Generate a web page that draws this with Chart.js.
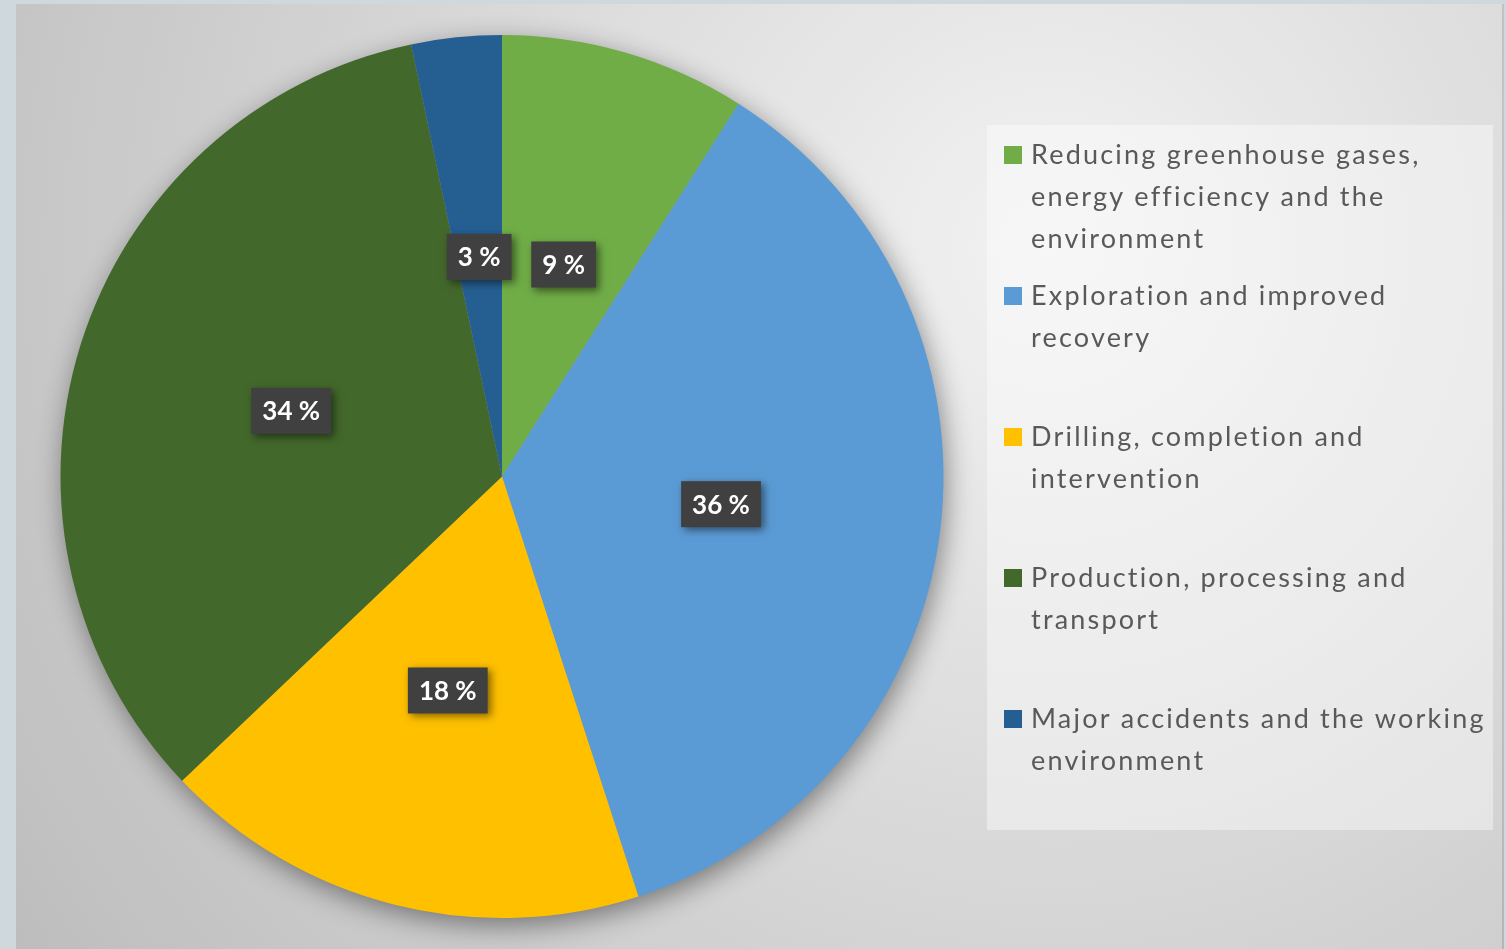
<!DOCTYPE html>
<html><head><meta charset="utf-8">
<script src="https://cdn.jsdelivr.net/npm/chart.js@4"></script>
<style>html,body{margin:0;padding:0;overflow:hidden;background:#cfd8dc}#wrap{width:1506px;height:949px;position:relative}canvas{display:block}</style>
</head><body><div id="wrap"><canvas id="c" width="1506" height="949"></canvas></div>
<script>
const categories = [
  "Reducing greenhouse gases, energy efficiency and the environment",
  "Exploration and improved recovery",
  "Drilling, completion and intervention",
  "Production, processing and transport",
  "Major accidents and the working environment"
];
const legendLines = [
  ["Reducing greenhouse gases,", "energy efficiency and the", "environment"],
  ["Exploration and improved", "recovery"],
  ["Drilling, completion and", "intervention"],
  ["Production, processing and", "transport"],
  ["Major accidents and the working", "environment"]
];
const values = [9, 36, 17.9, 33.8, 3.3];
const colors = ["#70ad47", "#5b9bd5", "#ffc000", "#43682b", "#255e91"];

const bgPlugin = {
  id: 'bg',
  beforeDraw(chart) {
    const ctx = chart.ctx;
    ctx.save();
    ctx.fillStyle = '#cfd8dc';
    ctx.fillRect(0, 0, chart.width, chart.height);
    const g = ctx.createRadialGradient(1050, 250, 0, 1050, 250, 1250);
    g.addColorStop(0, '#f2f2f2');
    g.addColorStop(1, '#bdbdbd');
    ctx.fillStyle = g;
    ctx.fillRect(16, 4, 1488, 945);
    ctx.fillStyle = 'rgba(0,0,0,0.12)';
    ctx.fillRect(1502, 4, 2, 945);
    ctx.restore();
  },
  beforeDatasetsDraw(chart) {
    const arc = chart.getDatasetMeta(0).data[0];
    if (!arc) return;
    const ctx = chart.ctx;
    ctx.save();
    ctx.shadowColor = 'rgba(0,0,0,0.45)';
    ctx.shadowBlur = 28;
    ctx.shadowOffsetX = 3;
    ctx.shadowOffsetY = 8;
    ctx.fillStyle = '#999';
    ctx.beginPath();
    ctx.arc(arc.x, arc.y, arc.outerRadius - 1, 0, Math.PI * 2);
    ctx.fill();
    ctx.restore();
  },
  afterDatasetsDraw(chart) {
    const ctx = chart.ctx;
    const meta = chart.getDatasetMeta(0);
    const data = chart.data.datasets[0].data;
    ctx.save();
    ctx.font = 'bold 26px Lato';
    ctx.textAlign = 'center';
    ctx.textBaseline = 'middle';
    meta.data.forEach((arc, i) => {
      const p = arc.tooltipPosition();
      const txt = Math.round(data[i]) + ' %';
      const w = ctx.measureText(txt).width + 22;
      const h = 46;
      ctx.save();
      ctx.shadowColor = 'rgba(0,0,0,0.5)';
      ctx.shadowBlur = 8;
      ctx.shadowOffsetX = 3;
      ctx.shadowOffsetY = 3;
      ctx.fillStyle = '#404040';
      ctx.fillRect(p.x - w / 2, p.y - h / 2, w, h);
      ctx.restore();
      ctx.fillStyle = '#ffffff';
      ctx.fillText(txt, p.x, p.y + 1);
    });
    ctx.restore();
  },
  afterDraw(chart) {
    const ctx = chart.ctx;
    ctx.save();
    ctx.fillStyle = 'rgba(255,255,255,0.4)';
    ctx.fillRect(987, 125, 506, 705);
    ctx.font = '27px Lato';
    ctx.letterSpacing = '2.2px';
    ctx.textBaseline = 'alphabetic';
    ctx.textAlign = 'left';
    const ds = chart.data.datasets[0];
    legendLines.forEach((lines, i) => {
      const baseY = 164 + i * 141;
      ctx.fillStyle = ds.backgroundColor[i];
      ctx.fillRect(1004, baseY - 18, 18, 18);
      ctx.fillStyle = '#595959';
      lines.forEach((ln, j) => {
        ctx.fillText(ln, 1031, baseY + j * 42);
      });
    });
    ctx.restore();
  }
};

new Chart(document.getElementById('c'), {
  type: 'pie',
  data: {
    labels: categories,
    datasets: [{
      data: values,
      backgroundColor: colors,
      borderWidth: 0
    }]
  },
  options: {
    responsive: false,
    animation: false,
    layout: { padding: { left: 60, right: 562, top: 35, bottom: 31 } },
    plugins: { legend: { display: false }, tooltip: { enabled: false } }
  },
  plugins: [bgPlugin]
});
</script>
</body></html>
